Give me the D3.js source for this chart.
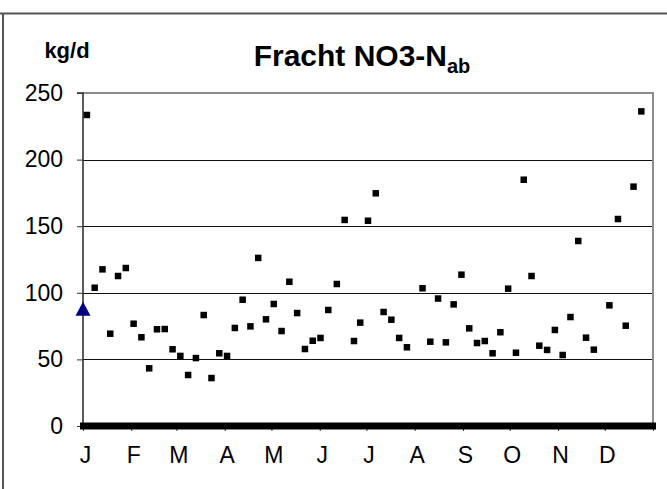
<!DOCTYPE html>
<html><head><meta charset="utf-8">
<script src="https://cdn.jsdelivr.net/npm/d3@7"></script>
<style>body{margin:0;background:#fff}svg{display:block}text{font-family:Arial,"Liberation Sans",sans-serif}</style>
</head><body><svg id="c" width="667" height="489"></svg>
<script>
// ---- data ----
const monthLabels = ["J","F","M","A","M","J","J","A","S","O","N","D"];
const monthStartDays = [0,31,60,91,121,152,182,213,244,274,305,335];
const yTicks = [0,50,100,150,200,250];
const sampleDays = [2.5,7.5,12.5,17.5,22.5,27.5,32.5,37.5,42.5,47.5,52.5,57.5,62.5,67.5,72.5,77.5,82.5,87.5,92.5,97.5,102.5,107.5,112.5,117.5,122.5,127.5,132.5,137.5,142.5,147.5,152.5,157.5,163,168,174,178,183,188,193,198,203,208,218,223,228,233,238,243,248,253,258,263,268,273,278,283,288,293,298,303,308,313,318,323,328,338,343.5,348.5,353.5,358.5];
const sampleValues = [233.5,103.8,117.6,69.3,112.6,118.6,76.8,66.6,43.3,72.6,72.8,57.6,52.6,38.3,51,83.3,36,54.6,52.6,73.6,94.8,74.8,126.2,80.1,91.6,71.3,108.3,84.8,57.8,64,66.1,87.1,106.6,154.7,63.8,77.6,154.1,174.7,85.6,79.8,66.1,59.1,103.4,63.3,95.7,62.8,91.3,113.6,73.3,62.3,63.8,54.6,70.4,103.1,55,184.9,112.6,60.3,57.1,72.1,53.3,81.8,138.9,66.3,57.3,90.6,155.4,75.3,179.7,236.2];
const zeroSeriesDays = [0,366];   // daily values of 0 across the whole year
const zeroSeriesValue = 0;
const refPoint = {day:0, value:88};

// ---- layout ----
const svg = d3.select("#c");
const L=83, R=653, T=93, B=426;
const x = d3.scaleLinear().domain([0,366]).range([L,R]);
const y = d3.scaleLinear().domain([0,250]).range([B,T]);

// outer frame
svg.append("line").attr("x1",0).attr("x2",667).attr("y1",13.5).attr("y2",13.5).attr("stroke","#555").attr("stroke-width",2);
svg.append("line").attr("x1",3).attr("x2",3).attr("y1",13).attr("y2",489).attr("stroke","#555").attr("stroke-width",2);

// gridlines
svg.append("g").selectAll("line").data(yTicks.filter(d=>d>0&&d<250)).join("line")
  .attr("x1",L).attr("x2",R).attr("y1",d=>Math.round(y(d))+0.5).attr("y2",d=>Math.round(y(d))+0.5)
  .attr("stroke","#111").attr("stroke-width",1);
// plot border top/right
svg.append("line").attr("x1",L).attr("x2",R+1).attr("y1",T).attr("y2",T).attr("stroke","#8c8c8c").attr("stroke-width",2);
svg.append("line").attr("x1",R).attr("x2",R).attr("y1",T).attr("y2",B).attr("stroke","#8c8c8c").attr("stroke-width",2);

// y axis
const yAxis = d3.axisLeft(y).tickValues(yTicks).tickSize(6).tickPadding(14).tickFormat(d3.format("d"));
const ga = svg.append("g").attr("transform",`translate(${L},0)`).call(yAxis);
ga.select(".domain").attr("stroke","#333").attr("stroke-width",1.6).attr("d",`M-6,${T}H0V${B}`);
ga.selectAll(".tick line").attr("stroke","#333");
ga.selectAll("text").attr("font-size",23).attr("fill","#000").style("font-family","Arial, 'Liberation Sans', sans-serif");

// x axis
const xAxis = d3.axisBottom(x).tickValues(monthStartDays.concat([366])).tickSize(5).tickPadding(16).tickFormat((d,i)=>monthLabels[i]||"");
const gx = svg.append("g").attr("transform",`translate(0,${B})`).call(xAxis);
gx.select(".domain").remove();
gx.selectAll(".tick line").attr("stroke","#333");
gx.selectAll("text").attr("font-size",23).attr("fill","#000").attr("dx",2).style("font-family","Arial, 'Liberation Sans', sans-serif");

// zero series (daily squares merged into a band)
svg.append("rect").attr("x",x(zeroSeriesDays[0])-3).attr("width",x(zeroSeriesDays[1])-x(zeroSeriesDays[0])+6)
  .attr("y",y(zeroSeriesValue)-3.5).attr("height",7).attr("fill","#000");

// sample squares
const s=6.5;
svg.append("g").selectAll("rect").data(sampleDays.map((d,i)=>({d,v:sampleValues[i]}))).join("rect")
  .attr("x",p=>x(p.d)-s/2).attr("y",p=>y(p.v)-s/2).attr("width",s).attr("height",s).attr("fill","#000");

// reference triangle
const tx=x(refPoint.day), ty=y(refPoint.value);
svg.append("path").attr("d",`M${tx},${ty-7}L${tx+7.5},${ty+7}L${tx-7.5},${ty+7}Z`).attr("fill","#000080");

// titles
svg.append("text").attr("x",67).attr("y",58).attr("text-anchor","middle").attr("font-size",22).attr("font-weight","bold").text("kg/d");
const t = svg.append("text").attr("x",362).attr("y",66).attr("text-anchor","middle").attr("font-size",30).attr("font-weight","bold");
t.append("tspan").text("Fracht NO3-N");
t.append("tspan").attr("font-size",20).attr("dy",7).text("ab");
</script></body></html>
